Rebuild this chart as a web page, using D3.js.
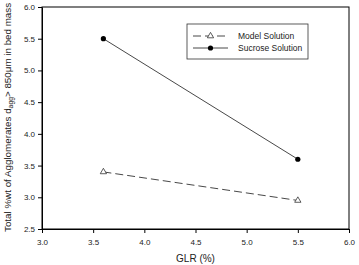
<!DOCTYPE html>
<html><head><meta charset="utf-8">
<script src="https://cdn.jsdelivr.net/npm/d3@7"></script>
<style>body{margin:0;background:#fff}svg{display:block}text{font-family:"Liberation Sans",Arial,sans-serif}</style>
</head><body><svg id="c" width="359" height="265"></svg>
<script>
const glr = [3.6, 5.5];
const modelSolution = [3.4, 2.95];
const sucroseSolution = [5.5, 3.6];
const xTicks = [3.0, 3.5, 4.0, 4.5, 5.0, 5.5, 6.0];
const yTicks = [2.5, 3.0, 3.5, 4.0, 4.5, 5.0, 5.5, 6.0];
const seriesNames = ["Model Solution", "Sucrose Solution"];

const svg = d3.select("#c");
const L = 42, R = 349, T = 7, B = 229;
const x = d3.scaleLinear().domain([3, 6]).range([L, R]);
const y = d3.scaleLinear().domain([2.5, 6]).range([B, T]);

svg.append("rect").attr("x", L).attr("y", T).attr("width", R - L).attr("height", B - T)
  .attr("fill", "none").attr("stroke", "#000").attr("stroke-width", 1);

const xa = svg.append("g").attr("transform", `translate(0,${B})`)
  .call(d3.axisBottom(x).tickValues(xTicks).tickFormat(d3.format(".1f")).tickSize(4).tickSizeOuter(0));
const ya = svg.append("g").attr("transform", `translate(${L},0)`)
  .call(d3.axisLeft(y).tickValues(yTicks).tickFormat(d3.format(".1f")).tickSize(4).tickSizeOuter(0));
[xa, ya].forEach(a => {
  a.select(".domain").attr("stroke", "#000");
  a.selectAll("text").attr("font-size", 8).attr("fill", "#222").attr("font-family", "Liberation Sans, Arial, sans-serif");
});
xa.selectAll("text").attr("dy", "1.1em");

svg.append("text").attr("x", (L + R) / 2).attr("y", 262).attr("text-anchor", "middle")
  .attr("font-size", 10).attr("fill", "#222").text("GLR (%)");

const yl = svg.append("text").attr("transform", "translate(10.5,232) rotate(-90)")
  .attr("text-anchor", "start").attr("font-size", 9.8).attr("fill", "#222");
yl.append("tspan").text("Total %wt of Agglomerates d");
yl.append("tspan").attr("font-size", 6.8).attr("dy", 2).text("agg");
yl.append("tspan").attr("dy", -2).text("> 850\u03bcm in bed mass");

const line = d3.line().x(d => x(d[0])).y(d => y(d[1]));
const mData = glr.map((g, i) => [g, modelSolution[i]]);
const sData = glr.map((g, i) => [g, sucroseSolution[i]]);

svg.append("path").datum(mData).attr("d", line).attr("fill", "none")
  .attr("stroke", "#333").attr("stroke-width", 0.9).attr("stroke-dasharray", "8,4");
svg.append("path").datum(sData).attr("d", line).attr("fill", "none")
  .attr("stroke", "#333").attr("stroke-width", 0.9);

const tri = d3.symbol().type(d3.symbolTriangle).size(17);
svg.selectAll(".m").data(mData).enter().append("path")
  .attr("transform", d => `translate(${x(d[0])},${y(d[1])})`).attr("d", tri)
  .attr("fill", "#fff").attr("stroke", "#333").attr("stroke-width", 0.8);
svg.selectAll(".s").data(sData).enter().append("circle")
  .attr("cx", d => x(d[0])).attr("cy", d => y(d[1])).attr("r", 2.6).attr("fill", "#000");

// legend
const lg = svg.append("g");
lg.append("rect").attr("x", 187).attr("y", 24).attr("width", 121).attr("height", 35)
  .attr("fill", "#fff").attr("stroke", "#333").attr("stroke-width", 0.8);
const ly = [36, 48];
lg.append("line").attr("x1", 193).attr("x2", 228).attr("y1", ly[0]).attr("y2", ly[0])
  .attr("stroke", "#333").attr("stroke-width", 0.9).attr("stroke-dasharray", "8,4");
lg.append("path").attr("transform", `translate(210.5,${ly[0]})`).attr("d", tri)
  .attr("fill", "#fff").attr("stroke", "#333").attr("stroke-width", 0.8);
lg.append("line").attr("x1", 193).attr("x2", 228).attr("y1", ly[1]).attr("y2", ly[1])
  .attr("stroke", "#333").attr("stroke-width", 0.9);
lg.append("circle").attr("cx", 210.5).attr("cy", ly[1]).attr("r", 2.6).attr("fill", "#000");
seriesNames.forEach((n, i) => {
  lg.append("text").attr("x", 238).attr("y", ly[i] + 3).attr("font-size", 8.5).attr("fill", "#222").text(n);
});
</script></body></html>
